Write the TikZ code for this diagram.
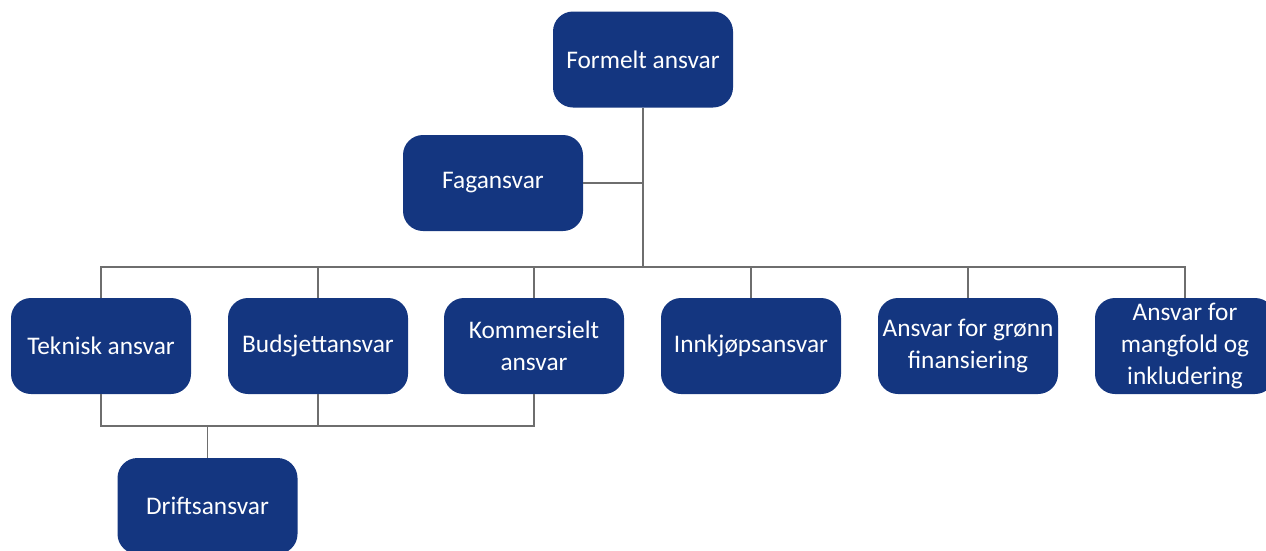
\documentclass[tikz,border=0pt]{standalone}
\usepackage{fontspec}
\setmainfont{Carlito}
\usepackage{tikz}
\usetikzlibrary{positioning}
\definecolor{navy}{RGB}{20,54,128}
\definecolor{wire}{RGB}{110,110,110}

\begin{document}
\begin{tikzpicture}[
    x=0.75pt, y=-0.75pt,
    unit/.style={rectangle, rounded corners=15pt, fill=navy, draw=none, text=white,
        minimum width=135pt, minimum height=72pt, align=center,
        font=\fontsize{19}{24}\selectfont},
    link/.style={draw=wire, line width=0.9pt}
]
\clip (0,0) rectangle (1266,550);

% Top of the chart
\node[unit] (formelt) at (643,59.5) {Formelt ansvar};
\node[unit] (fag) at (493,183) {Fagansvar};

% Second row
\node[unit] (teknisk) at (101,346) {Teknisk ansvar};
\node[unit] (budsjett) at (318,346) {Budsjettansvar};
\node[unit] (kommersielt) at (534,346) {Kommersielt\\ansvar};
\node[unit] (innkjop) at (751,346) {Innkjøpsansvar};
\node[unit] (gronn) at (968,346) {Ansvar for grønn\\finansiering};
\node[unit] (mangfold) at (1185,346) {Ansvar for\\mangfold og\\inkludering};

% Bottom
\node[unit] (drift) at (207.5,506) {Driftsansvar};

% Connectors
\coordinate (bus) at (643,267);
\coordinate (lowbus) at (207.5,426);
\draw[link] (formelt.south) -- (bus);
\draw[link] (fag.east) -- (fag.east -| formelt.south);
\foreach \n in {teknisk, budsjett, kommersielt, innkjop, gronn, mangfold}
    \draw[link] (\n.north) |- (bus);
\foreach \n in {teknisk, budsjett, kommersielt}
    \draw[link] (\n.south) |- (lowbus);
\draw[link] (lowbus) -- (drift.north);

\end{tikzpicture}
\end{document}
